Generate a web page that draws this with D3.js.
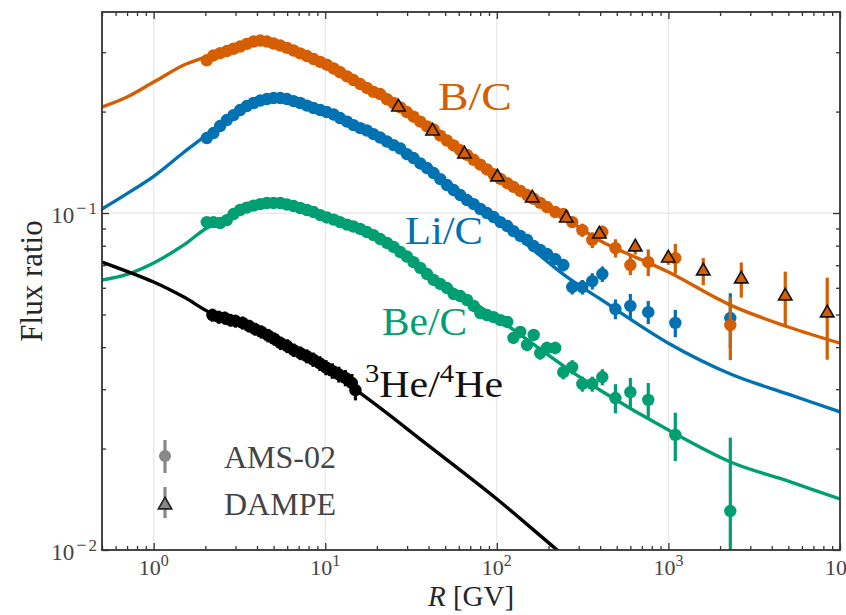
<!DOCTYPE html>
<html><head><meta charset="utf-8">
<script src="https://cdn.jsdelivr.net/npm/d3@7"></script>
<style>
body{margin:0;background:#fff}
svg{display:block}
text{font-family:"Liberation Serif","DejaVu Serif",serif;fill:#262626}
</style>
</head><body>
<svg id="c" width="846" height="615"></svg>
<script>
// ---------------- data ----------------
const R_AMS = [2.04,2.23,2.44,2.67,2.92,3.19,3.49,3.82,4.18,4.57,5.0,5.47,5.98,6.54,7.15,7.82,8.55,9.35,10.2,11.2,12.2,13.4,14.6,16.0,17.5,19.1,20.9,22.9,25.0,27.4,29.9,32.7,35.8,39.2,42.8,46.8,51.2,56.0,61.2,67.0,73.3,80.1,87.6,95.8,105,115,125,137,150,164,179,196,219,244,275,315,360,412,491,600,763,1097,2295];
const BC_AMS = [0.284,0.2935,0.298,0.3025,0.3073,0.312,0.3176,0.3228,0.325,0.3228,0.3184,0.3141,0.3092,0.3035,0.2977,0.2923,0.2864,0.281,0.2755,0.2685,0.2617,0.2545,0.2481,0.2414,0.2351,0.2288,0.2255,0.2176,0.2121,0.2059,0.1994,0.1931,0.1868,0.1808,0.177,0.1697,0.1641,0.1587,0.1536,0.1488,0.1439,0.1392,0.1347,0.1303,0.1263,0.1227,0.1196,0.1163,0.1131,0.1102,0.1072,0.1042,0.1007,0.0993,0.094,0.089,0.0832,0.0878,0.0787,0.0701,0.0715,0.0735,0.0465];
const BC_AMS_ERR = [0.004,0.004,0.004,0.004,0.004,0.004,0.004,0.004,0.004,0.004,0.004,0.004,0.004,0.004,0.004,0.004,0.004,0.004,0.004,0.004,0.0035,0.0035,0.0035,0.0035,0.0035,0.0035,0.0035,0.0035,0.0035,0.0035,0.003,0.003,0.003,0.003,0.003,0.003,0.003,0.003,0.003,0.003,0.0025,0.0025,0.0025,0.0025,0.0025,0.0025,0.0025,0.0025,0.0025,0.0025,0.0025,0.0025,0.0025,0.003,0.0035,0.004,0.0045,0.004,0.0049,0.0047,0.0065,0.0075,0.0099];
const LIC_AMS = [0.1669,0.1727,0.1812,0.1888,0.1953,0.2021,0.2077,0.2121,0.2157,0.2179,0.2194,0.2194,0.2179,0.2149,0.2121,0.2084,0.2049,0.2021,0.1994,0.196,0.1914,0.1868,0.1824,0.1787,0.1757,0.1715,0.1675,0.163,0.1591,0.1554,0.1496,0.1456,0.1403,0.136,0.1314,0.1261,0.1211,0.117,0.1131,0.1093,0.1063,0.1028,0.1,0.0973,0.094,0.0915,0.0884,0.0855,0.0832,0.0798,0.0777,0.0756,0.073,0.0701,0.0603,0.0603,0.0628,0.0659,0.0519,0.053,0.0508,0.0472,0.0488];
const LIC_AMS_ERR = [0.004,0.004,0.004,0.004,0.004,0.004,0.004,0.004,0.004,0.004,0.004,0.004,0.004,0.004,0.004,0.004,0.004,0.004,0.004,0.004,0.0035,0.0035,0.0035,0.0035,0.0035,0.0035,0.0035,0.0035,0.0035,0.0035,0.003,0.003,0.003,0.003,0.003,0.003,0.003,0.003,0.003,0.003,0.0025,0.0025,0.0025,0.0025,0.0025,0.0025,0.0025,0.0025,0.0025,0.0025,0.003,0.003,0.003,0.003,0.003,0.003,0.0035,0.0035,0.0035,0.0045,0.004,0.0044,0.009];
const BEC_AMS = [0.094,0.094,0.0934,0.0953,0.0993,0.1021,0.1038,0.1052,0.1063,0.1071,0.1071,0.1071,0.106,0.1049,0.1035,0.1021,0.1007,0.0986,0.097,0.0956,0.094,0.0924,0.0912,0.0897,0.0878,0.086,0.0837,0.0815,0.0793,0.0766,0.0743,0.0715,0.0687,0.0659,0.0633,0.0616,0.0599,0.0575,0.0567,0.0552,0.053,0.0505,0.0498,0.0491,0.0481,0.0475,0.0426,0.0444,0.0406,0.0435,0.0384,0.0398,0.0398,0.0337,0.0349,0.0311,0.0311,0.0326,0.02825,0.0294,0.0279,0.02195,0.01305];
const BEC_AMS_ERR = [0.002,0.002,0.002,0.002,0.002,0.002,0.002,0.002,0.002,0.002,0.002,0.002,0.002,0.002,0.002,0.002,0.002,0.002,0.002,0.002,0.0018,0.0018,0.0018,0.0018,0.0018,0.0018,0.0018,0.0018,0.0018,0.0018,0.0015,0.0015,0.0015,0.0015,0.0015,0.0015,0.0015,0.0015,0.0015,0.0015,0.0015,0.0015,0.0015,0.0015,0.0015,0.0015,0.0017,0.0017,0.0017,0.0017,0.0017,0.0017,0.0017,0.0016,0.0017,0.0016,0.0016,0.0018,0.0028,0.003,0.0034,0.0036,0.0085];
const R_HE = [2.2,2.4,2.6,2.8,3.0,3.3,3.6,3.9,4.25,4.65,5.05,5.5,6.0,6.55,7.15,7.8,8.5,9.3,10.1,11.0,12.0,13.1,14.3,15.0];
const HE_AMS = [0.0498,0.0491,0.0488,0.0481,0.0478,0.0472,0.0462,0.04525,0.0444,0.0433,0.0423,0.0411,0.0403,0.0392,0.0384,0.0376,0.03675,0.0358,0.0348,0.034,0.0332,0.0324,0.0313,0.0298];
const HE_AMS_ERR = [0.0022,0.0022,0.0022,0.0021,0.0021,0.0021,0.002,0.002,0.002,0.002,0.0019,0.0019,0.0019,0.0018,0.0018,0.0018,0.0018,0.0018,0.0018,0.0018,0.0018,0.0018,0.002,0.002];
const R_DAMPE = [26.7,42.2,64.8,100.8,161,254,396,641,998,1596,2659,4797,8423];
const BC_DAMPE = [0.2063,0.1751,0.1496,0.1279,0.1108,0.0966,0.0866,0.0793,0.0735,0.0673,0.0637,0.0567,0.0505];
const BC_DAMPE_ERR = [0.002,0.002,0.002,0.002,0.002,0.002,0.0025,0.004,0.0033,0.0062,0.0076,0.0103,0.0138];
const MODEL_R = [0.5,0.7,1,1.5,2,3,4,6,10,20,40,100,250,400,1000,2300,5000,10000];
const BC_MODEL = [0.2063,0.2209,0.2447,0.275,0.2904,0.3087,0.325,0.3087,0.2759,0.227,0.1793,0.1283,0.0966,0.0828,0.0668,0.0533,0.0459,0.0411];
const LIC_MODEL = [0.1028,0.1142,0.1285,0.1515,0.1692,0.194,0.2106,0.2187,0.1994,0.1681,0.1342,0.0954,0.0652,0.0556,0.0411,0.0333,0.029,0.0257];
const BEC_MODEL = [0.0633,0.0658,0.0711,0.0804,0.0897,0.0993,0.1042,0.1067,0.0973,0.0843,0.0664,0.0488,0.0349,0.0298,0.0227,0.01825,0.016,0.01417];
const HE_MODEL_R = [0.5,1,1.5,2.2,4,7,16,40,100,225,300];
const HE_MODEL = [0.0715,0.0624,0.0563,0.0502,0.045,0.0387,0.0292,0.0204,0.01417,0.01,0.0089];
const X_TICKS = [1,10,100,1000,10000];
const X_TICK_EXP = ["0","1","2","3","4"];
const Y_TICKS = [0.01,0.1];
const Y_TICK_EXP = ["−2","−1"];
const COLORS = {bc:"#D55E00", lic:"#0072B2", bec:"#009E73", he:"#000000"};

// ---------------- chart ----------------
const svg = d3.select("#c");
const P = {l:102, r:840, t:12, b:550};
const x = d3.scaleLog().domain([0.5, 1e4]).range([P.l, P.r]);
const y = d3.scaleLog().domain([0.01, 0.395]).range([P.b, P.t]);

svg.append("defs").append("clipPath").attr("id","clip")
  .append("rect").attr("x",P.l).attr("y",P.t).attr("width",P.r-P.l).attr("height",P.b-P.t);

// grid
const grid = svg.append("g").attr("stroke","#e6e6e6").attr("stroke-width",1.2);
grid.selectAll("line.gx").data(X_TICKS.filter(d=>d<1e4)).join("line")
  .attr("x1",d=>x(d)).attr("x2",d=>x(d)).attr("y1",P.t).attr("y2",P.b);
grid.selectAll("line.gy").data([0.1]).join("line")
  .attr("x1",P.l).attr("x2",P.r).attr("y1",d=>y(d)).attr("y2",d=>y(d));

const plot = svg.append("g").attr("clip-path","url(#clip)");
const line = d3.line().x(d=>x(d[0])).y(d=>y(d[1])).curve(d3.curveCatmullRom.alpha(0.5));
function drawModel(rs, vs, col){
  plot.append("path").datum(rs.map((r,i)=>[r,vs[i]]))
    .attr("d",line).attr("fill","none").attr("stroke",col).attr("stroke-width",3.4);
}
drawModel(MODEL_R, BC_MODEL, COLORS.bc);
drawModel(MODEL_R, LIC_MODEL, COLORS.lic);
drawModel(MODEL_R, BEC_MODEL, COLORS.bec);
drawModel(HE_MODEL_R, HE_MODEL, COLORS.he);

function drawAMS(rs, vs, es, col){
  const d = rs.map((r,i)=>({r, v:vs[i], e:es[i]}));
  const g = plot.append("g");
  g.selectAll("line").data(d).join("line")
    .attr("x1",p=>x(p.r)).attr("x2",p=>x(p.r))
    .attr("y1",p=>y(p.v+p.e)).attr("y2",p=>y(Math.max(p.v-p.e,1e-3)))
    .attr("stroke",col).attr("stroke-width",3.2);
  g.selectAll("circle").data(d).join("circle")
    .attr("cx",p=>x(p.r)).attr("cy",p=>y(p.v)).attr("r",6.2).attr("fill",col);
}
drawAMS(R_HE, HE_AMS, HE_AMS_ERR, COLORS.he);
drawAMS(R_AMS, BEC_AMS, BEC_AMS_ERR, COLORS.bec);
drawAMS(R_AMS, LIC_AMS, LIC_AMS_ERR, COLORS.lic);
drawAMS(R_AMS, BC_AMS, BC_AMS_ERR, COLORS.bc);

// DAMPE
const dd = R_DAMPE.map((r,i)=>({r, v:BC_DAMPE[i], e:BC_DAMPE_ERR[i]}));
const gd = plot.append("g");
gd.selectAll("line").data(dd).join("line")
  .attr("x1",p=>x(p.r)).attr("x2",p=>x(p.r))
  .attr("y1",p=>y(p.v+p.e)).attr("y2",p=>y(p.v-p.e))
  .attr("stroke",COLORS.bc).attr("stroke-width",3.2);
const tri = d3.symbol().type(d3.symbolTriangle).size(78);
gd.selectAll("path").data(dd).join("path")
  .attr("d",tri).attr("transform",p=>`translate(${x(p.r)},${y(p.v)})`)
  .attr("fill",COLORS.bc).attr("stroke","#111").attr("stroke-width",1.6);

// axes (ticks inward on all four sides)
const xMinor = [];
[0.1,1,10,100,1000].forEach(b=>{for(let k=2;k<=9;k++){const v=b*k; if(v>=0.5&&v<=1e4) xMinor.push(v);}});
const yMinor = [];
[0.01,0.1].forEach(b=>{for(let k=2;k<=9;k++){const v=b*k; if(v<=0.395) yMinor.push(v);}});
const axCol = "#333";
function styleAxis(g){ g.select(".domain").remove(); g.selectAll("line").attr("stroke",axCol).attr("stroke-width",1.3); }
const fmtNone = ()=>"";
svg.append("g").attr("transform",`translate(0,${P.b})`).call(d3.axisBottom(x).tickValues(X_TICKS).tickSize(-7).tickFormat(fmtNone)).call(styleAxis);
svg.append("g").attr("transform",`translate(0,${P.b})`).call(d3.axisBottom(x).tickValues(xMinor).tickSize(-4).tickFormat(fmtNone)).call(styleAxis);
svg.append("g").attr("transform",`translate(0,${P.t})`).call(d3.axisTop(x).tickValues(X_TICKS).tickSize(-7).tickFormat(fmtNone)).call(styleAxis);
svg.append("g").attr("transform",`translate(0,${P.t})`).call(d3.axisTop(x).tickValues(xMinor).tickSize(-4).tickFormat(fmtNone)).call(styleAxis);
svg.append("g").attr("transform",`translate(${P.l},0)`).call(d3.axisLeft(y).tickValues(Y_TICKS).tickSize(-7).tickFormat(fmtNone)).call(styleAxis);
svg.append("g").attr("transform",`translate(${P.l},0)`).call(d3.axisLeft(y).tickValues(yMinor).tickSize(-4).tickFormat(fmtNone)).call(styleAxis);
svg.append("g").attr("transform",`translate(${P.r},0)`).call(d3.axisRight(y).tickValues(Y_TICKS).tickSize(-7).tickFormat(fmtNone)).call(styleAxis);
svg.append("g").attr("transform",`translate(${P.r},0)`).call(d3.axisRight(y).tickValues(yMinor).tickSize(-4).tickFormat(fmtNone)).call(styleAxis);

// spines
svg.append("rect").attr("x",P.l).attr("y",P.t).attr("width",P.r-P.l).attr("height",P.b-P.t)
  .attr("fill","none").attr("stroke",axCol).attr("stroke-width",1.8);

// tick labels
function powLabel(sel, exp){
  sel.append("tspan").text("10");
  if (exp.startsWith("−")) {
    sel.append("tspan").attr("dy",-9).attr("dx",2).attr("font-size",18).text("−");
    sel.append("tspan").attr("dx",2).attr("font-size",17).text(exp.slice(1));
  } else {
    sel.append("tspan").attr("dy",-9).attr("font-size",16).text(exp);
  }
}
X_TICKS.forEach((t,i)=>{
  const tx = svg.append("text").attr("x",x(t)).attr("y",P.b+25).attr("text-anchor","middle")
    .attr("font-size",22).style("fill","#444");
  powLabel(tx, X_TICK_EXP[i]);
});
Y_TICKS.forEach((t,i)=>{
  const ty = svg.append("text").attr("x",P.l-5).attr("y",y(t)+10).attr("text-anchor","end")
    .attr("font-size",23).style("fill","#444");
  powLabel(ty, Y_TICK_EXP[i]);
});

// axis titles
svg.append("text").attr("transform",`translate(42,${(P.t+P.b)/2}) rotate(-90)`)
  .attr("text-anchor","middle").attr("font-size",31).text("Flux ratio");
const xt = svg.append("text").attr("x",(P.l+P.r)/2).attr("y",606).attr("text-anchor","middle").attr("font-size",29);
xt.append("tspan").attr("font-style","italic").text("R");
xt.append("tspan").text(" [GV]");

// series labels
function label(xp, yp, txt, col, w){
  return svg.append("text").attr("x",xp).attr("y",yp).attr("font-size",40)
    .attr("textLength",w).attr("lengthAdjust","spacingAndGlyphs").style("fill",col).text(txt);
}
label(438,110,"B/C",COLORS.bc,74);
label(405,244,"Li/C",COLORS.lic,78);
label(382,335,"Be/C",COLORS.bec,85);
const he = svg.append("text").attr("x",365).attr("y",397).attr("font-size",38)
  .attr("textLength",138).attr("lengthAdjust","spacingAndGlyphs").style("fill","#111");
he.append("tspan").attr("font-size",26).attr("dy",-15).text("3");
he.append("tspan").attr("dy",15).text("He/");
he.append("tspan").attr("font-size",26).attr("dy",-15).text("4");
he.append("tspan").attr("dy",15).text("He");

// legend
const lg = svg.append("g");
lg.append("line").attr("x1",165).attr("x2",165).attr("y1",440).attr("y2",473).attr("stroke","#888").attr("stroke-width",3.2);
lg.append("circle").attr("cx",165).attr("cy",456).attr("r",6).attr("fill","#888");
lg.append("line").attr("x1",165).attr("x2",165).attr("y1",487).attr("y2",518).attr("stroke","#888").attr("stroke-width",3.2);
lg.append("path").attr("d",tri).attr("transform","translate(165,505)").attr("fill","#888").attr("stroke","#222").attr("stroke-width",1.6);
lg.append("text").attr("x",224).attr("y",468).attr("font-size",32).style("fill","#444").text("AMS-02");
lg.append("text").attr("x",224).attr("y",515).attr("font-size",32).style("fill","#444").text("DAMPE");
</script>
</body></html>
